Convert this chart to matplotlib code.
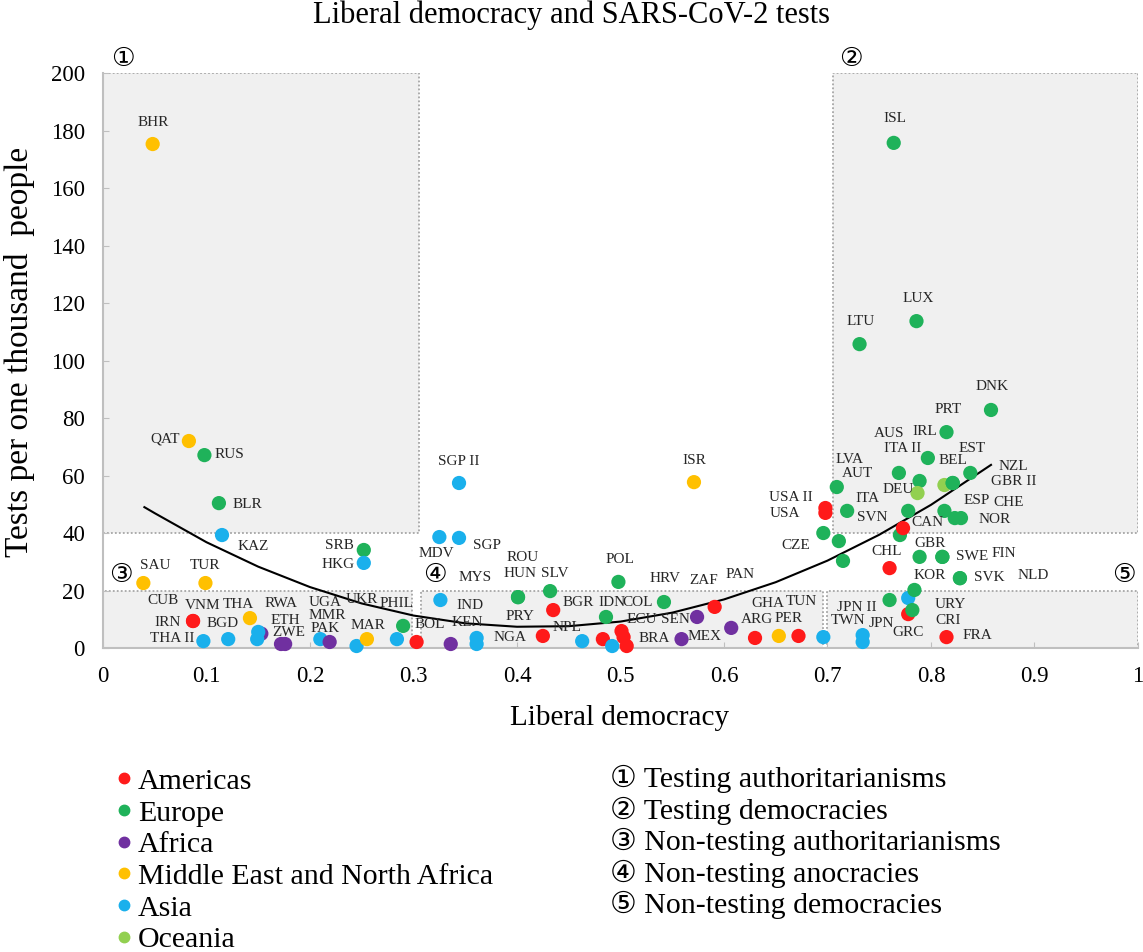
import numpy as np
import matplotlib.pyplot as plt
from matplotlib.patches import Rectangle
from matplotlib.lines import Line2D

plt.rcParams["font.family"] = ["Liberation Serif", "DejaVu Sans"]

# ==========================================
# DATA
# ==========================================

regions = ["Americas", "Europe", "Africa",
           "Middle East and North Africa", "Asia", "Oceania"]
region_keys = ["AM", "EU", "AF", "ME", "AS", "OC"]
region_colors = ["#ff1a1a", "#1fb25a", "#7030a0", "#ffc000", "#1ab0ec", "#92d050"]

codes = [
    "BHR", "QAT", "RUS", "BLR", "KAZ", "SAU", "TUR", "SRB", "HKG", "MDV",
    "SGP", "SGP II", "ISR", "POL", "IRN", "CUB", "THA", "THA II", "BGD", "RWA",
    "VNM", "", "ETH", "ZWE", "PAK", "UGA", "MMR", "MAR", "PHIL", "UKR",
    "BOL", "IND", "KEN", "MYS", "NGA", "ROU", "HUN", "SLV", "BGR", "PRY",
    "NPL", "IDN", "HRV", "", "", "COL", "ECU", "BRA", "SEN", "MEX",
    "PAN", "ZAF", "ARG", "TUN", "PER", "GHA", "JPN II", "TWN", "JPN", "KOR",
    "URY", "CRI", "GRC", "FRA", "SVK", "NLD", "SWE", "FIN", "GBR", "CHL",
    "CZE", "", "", "ISL", "LUX", "LTU", "DNK", "PRT", "IRL", "AUS",
    "ITA II", "NZL", "BEL", "GBR II", "DEU", "EST", "LVA", "ITA", "AUT", "ESP",
    "NOR", "CHE", "USA II", "USA", "SVN", "CAN",
]

lib_dem = [
    0.048, 0.083, 0.098, 0.112, 0.115, 0.039, 0.099, 0.252, 0.252, 0.325,
    0.344, 0.344, 0.571, 0.498, 0.087, 0.087, 0.142, 0.097, 0.121, 0.153,
    0.150, 0.149, 0.172, 0.176, 0.210, 0.219, 0.245, 0.255, 0.284, 0.290,
    0.303, 0.326, 0.336, 0.361, 0.361, 0.401, 0.401, 0.432, 0.435, 0.425,
    0.463, 0.486, 0.542, 0.483, 0.492, 0.501, 0.503, 0.506, 0.574, 0.559,
    0.591, 0.607, 0.630, 0.653, 0.672, 0.696, 0.734, 0.734, 0.760, 0.778,
    0.784, 0.778, 0.782, 0.815, 0.828, 0.828, 0.811, 0.811, 0.789, 0.760,
    0.696, 0.711, 0.715, 0.764, 0.786, 0.731, 0.858, 0.815, 0.797, 0.769,
    0.789, 0.813, 0.821, 0.821, 0.787, 0.838, 0.709, 0.719, 0.778, 0.813,
    0.823, 0.829, 0.698, 0.698, 0.770, 0.773,
]

tests = [
    175.3, 72.0, 67.1, 50.4, 39.3, 22.6, 22.6, 34.1, 29.6, 38.6,
    38.3, 57.4, 57.7, 23.0, 9.4, 9.4, 10.4, 2.4, 3.1, 5.0,
    5.6, 3.1, 1.4, 1.4, 3.1, 2.1, 0.7, 3.1, 3.1, 7.7,
    2.1, 16.7, 1.4, 3.5, 1.4, 17.7, 17.7, 19.8, 13.2, 4.2,
    2.4, 10.8, 16.0, 3.1, 0.7, 5.9, 3.8, 0.7, 10.8, 3.1,
    14.3, 7.0, 3.5, 4.2, 4.2, 3.8, 4.5, 2.1, 16.7, 17.4,
    20.2, 11.8, 13.2, 3.8, 24.3, 24.3, 31.7, 31.7, 31.7, 27.8,
    40.0, 37.2, 30.3, 175.7, 113.7, 105.7, 82.8, 75.1, 66.1, 60.9,
    58.1, 56.7, 57.4, 57.4, 53.9, 60.9, 56.0, 47.7, 47.7, 47.7,
    45.2, 45.2, 48.7, 47.0, 39.3, 41.7,
]

region = [
    "ME", "ME", "EU", "EU", "AS", "ME", "ME", "EU", "AS", "AS",
    "AS", "AS", "ME", "EU", "AM", "AM", "ME", "AS", "AS", "AF",
    "AS", "AS", "AF", "AF", "AS", "AF", "AS", "ME", "AS", "EU",
    "AM", "AS", "AF", "AS", "AS", "EU", "EU", "EU", "AM", "AM",
    "AS", "EU", "EU", "AM", "AS", "AM", "AM", "AM", "AF", "AF",
    "AM", "AF", "AM", "ME", "AM", "AS", "AS", "AS", "EU", "AS",
    "EU", "AM", "EU", "AM", "EU", "EU", "EU", "EU", "EU", "AM",
    "EU", "EU", "EU", "EU", "EU", "EU", "EU", "EU", "EU", "EU",
    "EU", "OC", "EU", "EU", "OC", "EU", "EU", "EU", "EU", "EU",
    "EU", "EU", "AM", "AM", "EU", "AM",
]

# fitted trend
trend_x = [0.04, 0.05, 0.10, 0.15, 0.20, 0.25, 0.30, 0.35, 0.40,
           0.45, 0.50, 0.55, 0.60, 0.65, 0.70, 0.75, 0.80, 0.858]
trend_y = [49.0, 46.9, 36.8, 28.3, 21.2, 15.5, 11.3, 8.6, 7.4,
           7.6, 9.2, 12.3, 16.9, 22.9, 30.4, 39.4, 49.8, 63.7]

group_marks = ["\u2460", "\u2461", "\u2462", "\u2463", "\u2464"]
group_names = ["Testing authoritarianisms", "Testing democracies",
               "Non-testing authoritarianisms", "Non-testing anocracies",
               "Non-testing democracies"]

# ==========================================
# LAYOUT (label offsets in pixels)
# ==========================================

label_offset = {
    "BHR": (1, 22), "QAT": (-24, 2), "RUS": (25, 1), "BLR": (29, -1),
    "KAZ": (31, -11), "SAU": (12, 18), "TUR": (0, 18), "SRB": (-24, 4),
    "HKG": (-26, -2), "MDV": (-3, -16), "SGP": (28, -8), "SGP II": (0, 21),
    "ISR": (0, 22), "POL": (2, 22), "IRN": (-25, -1), "CUB": (-30, 21),
    "THA": (-12, 14), "THA II": (-31, 3), "BGD": (-6, 16), "VNM": (-56, 26),
    "RWA": (20, 30), "ETH": (4, 24), "ZWE": (4, 12), "PAK": (5, 11),
    "UGA": (-4, 39), "MMR": (-29, 31), "MAR": (1, 14), "PHIL": (0, 36),
    "UKR": (-41, 26), "BOL": (13, 17), "IND": (30, -5), "MYS": (-2, 60),
    "KEN": (17, 22), "NGA": (33, 7), "HUN": (2, 24), "ROU": (5, 40),
    "SLV": (5, 18), "BGR": (25, 8), "PRY": (-23, 19), "NPL": (-15, 14),
    "IDN": (6, 14), "HRV": (1, 24), "COL": (16, 29), "ECU": (18, 18),
    "BRA": (28, 8), "SEN": (-22, -3), "PAN": (25, 32), "MEX": (23, 3),
    "ZAF": (-28, 47), "ARG": (2, 18), "TUN": (23, 34), "PER": (-10, 17),
    "GHA": (-55, 34), "JPN II": (-6, 28), "TWN": (-15, 21), "JPN": (-8, -23),
    "KOR": (22, 23), "URY": (36, -15), "CRI": (40, -6), "GRC": (-4, -22),
    "FRA": (31, 2), "SVK": (29, 1), "NLD": (73, 3), "SWE": (30, 0),
    "FIN": (61, 3), "GBR": (10, 13), "CHL": (-3, 17), "CZE": (-28, -12),
    "ISL": (1, 24), "LUX": (2, 23), "LTU": (1, 23), "DNK": (1, 23),
    "PRT": (2, 23), "IRL": (-3, 26), "AUS": (-10, 39), "ITA II": (-17, 32),
    "DEU": (-19, 4), "NZL": (69, 19), "BEL": (0, 22), "GBR II": (61, 1),
    "EST": (2, 24), "LVA": (13, 28), "ITA": (20, 12), "AUT": (-51, 37),
    "ESP": (32, 10), "NOR": (40, -1), "CHE": (48, 16), "USA II": (-35, 11),
    "USA": (-40, -1), "SVN": (-28, 18), "CAN": (24, 6),
}

# shaded group boxes: (x0, x1, y0, y1)
boxes = [(0.0, 0.305, 40, 200), (0.705, 1.0, 40, 200), (0.0, 0.299, 0, 20),
         (0.307, 0.696, 0, 20), (0.700, 1.0, 0, 20)]
mark_pos = [(0.019, 205), (0.723, 205), (0.017, 25.5), (0.321, 25.5), (0.986, 25.5)]

# ==========================================
# PLOT
# ==========================================

fig = plt.figure(figsize=(11.43, 9.52), dpi=100)
ax = fig.add_axes([0.0901, 0.3193, 0.9055, 0.604])

for x0, x1, y0, y1 in boxes:
    ax.add_patch(Rectangle((x0, y0), x1 - x0, y1 - y0,
                           facecolor="#f0f0f0", edgecolor="#a6a6a6",
                           linestyle=(0, (1, 1.2)), linewidth=1.3, zorder=0))

ax.plot(trend_x, trend_y, color="black", linewidth=1.5, zorder=2)

color_map = dict(zip(region_keys, region_colors))
point_colors = [color_map[r] for r in region]

ax.scatter(lib_dem, tests, s=105, c=point_colors, linewidths=0,
           zorder=3, clip_on=False)

for code, x, y in zip(codes, lib_dem, tests):
    if code == "":
        continue
    dx, dy = label_offset[code]
    ax.annotate(code, (x, y), xytext=(dx, dy), textcoords="offset pixels",
                ha="center", va="center", fontsize=11, color="#262626",
                zorder=4, annotation_clip=False)

for mark, (mx, my) in zip(group_marks, mark_pos):
    ax.text(mx, my, mark, ha="center", va="center", fontsize=19,
            family=["DejaVu Sans"], clip_on=False)

ax.set_xlim(0, 1)
ax.set_ylim(0, 200)
ax.set_xticks(np.arange(0, 1.01, 0.1))
ax.set_xticklabels(["0", "0.1", "0.2", "0.3", "0.4", "0.5",
                    "0.6", "0.7", "0.8", "0.9", "1"])
ax.set_yticks(np.arange(0, 201, 20))

for side in ["top", "right"]:
    ax.spines[side].set_visible(False)
for side in ["left", "bottom"]:
    ax.spines[side].set_color("#bfbfbf")
    ax.spines[side].set_linewidth(1.5)

ax.tick_params(direction="in", length=4, color="#bfbfbf",
               labelsize=16.5, pad=13)

fig.text(0.5, 1 - 15 / 952, "Liberal democracy and SARS-CoV-2 tests",
         ha="center", va="center", fontsize=22)
fig.text(20 / 1143, 1 - 352 / 952, "Tests per one thousand  people",
         ha="center", va="center", rotation=90, fontsize=24)
fig.text(620 / 1143, 1 - 718 / 952, "Liberal democracy",
         ha="center", va="center", fontsize=21)

# region legend
handles = [Line2D([], [], marker="o", linestyle="", color=c,
                  markersize=7.5) for c in region_colors]
fig.legend(handles, regions, loc="upper left",
           bbox_to_anchor=(117 / 1143, 1 - 768 / 952), frameon=False,
           fontsize=21.5, handlelength=0.5, handletextpad=0.2,
           labelspacing=0.16, borderaxespad=0, borderpad=0)

# group legend
for i, (mark, name) in enumerate(zip(group_marks, group_names)):
    fig.text(610 / 1143, 1 - (779 + 31.6 * i) / 952, mark + " " + name,
             ha="left", va="center", fontsize=21.5)

fig.savefig("out.png", dpi=100)
